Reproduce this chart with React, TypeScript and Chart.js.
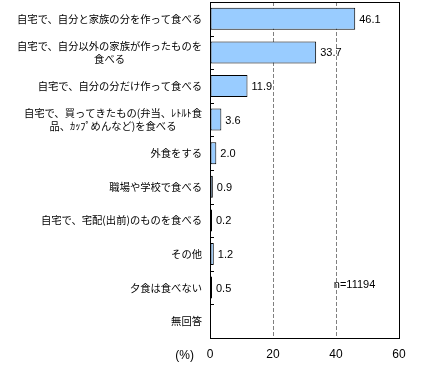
import React, { useEffect, useRef } from "react";
import { Chart, registerables } from "chart.js";

Chart.register(...registerables);

const categories: string[][] = [
  ["自宅で、自分と家族の分を作って食べる"],
  ["自宅で、自分以外の家族が作ったものを", "食べる"],
  ["自宅で、自分の分だけ作って食べる"],
  ["自宅で、買ってきたもの(弁当、ﾚﾄﾙﾄ食", "品、ｶｯﾌﾟめんなど)を食べる"],
  ["外食をする"],
  ["職場や学校で食べる"],
  ["自宅で、宅配(出前)のものを食べる"],
  ["その他"],
  ["夕食は食べない"],
  ["無回答"],
];
const values: (number | null)[] = [46.1, 33.7, 11.9, 3.6, 2.0, 0.9, 0.2, 1.2, 0.5, null];
const xTicks: number[] = [0, 20, 40, 60];
const unitLabel = "(%)";
const sampleNote = "n=11194";

const NUM_FAMILY = "'Liberation Sans', Arial, sans-serif";
const NUM_FONT = "11px " + NUM_FAMILY;
const CJK_FONT = "10.3px 'Noto Sans CJK JP', sans-serif";

const overlay = {
  id: "overlay",
  afterDatasetsDraw(chart: any) {
    const { ctx, chartArea } = chart;
    const xs = chart.scales.x;
    const ys = chart.scales.y;
    ctx.save();
    // border box
    ctx.strokeStyle = "#000";
    ctx.lineWidth = 1;
    ctx.strokeRect(
      Math.round(chartArea.left) + 0.5,
      Math.round(chartArea.top) + 0.5,
      Math.round(chartArea.right) - Math.round(chartArea.left),
      Math.round(chartArea.bottom) - Math.round(chartArea.top)
    );
    // inner category tick marks
    const n = categories.length;
    const band = (chartArea.bottom - chartArea.top) / n;
    ctx.beginPath();
    for (let i = 1; i < n; i++) {
      const y = Math.round(chartArea.top + band * i) + 0.5;
      ctx.moveTo(Math.round(chartArea.left), y);
      ctx.lineTo(Math.round(chartArea.left) + 4, y);
    }
    ctx.stroke();
    // value labels
    ctx.fillStyle = "#000";
    ctx.font = NUM_FONT;
    ctx.textAlign = "left";
    ctx.textBaseline = "middle";
    const meta = chart.getDatasetMeta(0);
    meta.data.forEach((bar: any, i: number) => {
      const v = values[i];
      if (v === null) return;
      const xEnd = Math.max(bar.x, xs.getPixelForValue(0) + 1);
      ctx.fillText(v.toFixed(1), xEnd + 4, bar.y + 1);
    });
    // category labels
    ctx.font = CJK_FONT;
    ctx.textAlign = "center";
    const right = chartArea.left - 8;
    const lh = 13;
    categories.forEach((lines, i) => {
      const yc = ys.getPixelForValue(i);
      const w = Math.max(...lines.map((l) => ctx.measureText(l).width));
      const cx = right - w / 2;
      const y0 = yc - ((lines.length - 1) * lh) / 2;
      lines.forEach((l, j) => ctx.fillText(l, cx, y0 + j * lh));
    });
    // unit label
    ctx.font = "12px " + NUM_FAMILY;
    ctx.textAlign = "right";
    ctx.fillText(unitLabel, chartArea.left - 16, 356);
    // sample note
    ctx.font = NUM_FONT;
    ctx.textAlign = "left";
    ctx.fillText(sampleNote, xs.getPixelForValue(39.3), ys.getPixelForValue(8) - 3);
    ctx.restore();
  },
};

export default function App() {
  const ref = useRef<HTMLCanvasElement | null>(null);
  useEffect(() => {
    document.body.style.margin = "0";
    if (!ref.current) return;
    const chart = new Chart(ref.current, {
      type: "bar",
      data: {
        labels: categories.map((c) => c.join("")),
        datasets: [
          {
            data: values as any,
            backgroundColor: "#99CCFF",
            borderColor: "#000000",
            borderWidth: 1,
            borderSkipped: false,
            barPercentage: 0.655,
            categoryPercentage: 1,
            minBarLength: 2,
          },
        ],
      },
      options: {
        indexAxis: "y",
        animation: false,
        responsive: false,
        maintainAspectRatio: false,
        layout: { padding: { left: 210, top: 2, right: 33, bottom: 0 } },
        plugins: { legend: { display: false }, tooltip: { enabled: false } },
        scales: {
          x: {
            min: 0,
            max: 60,
            afterBuildTicks: (scale: any) => {
              scale.ticks = xTicks.map((v) => ({ value: v }));
            },
            afterFit: (scale: any) => {
              scale.height = 36;
            },
            ticks: {
              color: "#000",
              padding: 9,
              font: { family: NUM_FAMILY, size: 12 },
            },
            grid: {
              drawTicks: false,
              color: (c: any) =>
                c.tick && (c.tick.value === 0 || c.tick.value === 60) ? "rgba(0,0,0,0)" : "#808080",
            },
            border: { display: false, dash: [4, 2] },
          },
          y: {
            display: false,
            grid: { display: false },
          },
        },
      },
      plugins: [overlay],
    });
    return () => chart.destroy();
  }, []);
  return (
    <div style={{ position: "absolute", left: 0, top: 0, width: 432, height: 374, background: "#fff" }}>
      <canvas ref={ref} width={432} height={374} style={{ width: 432, height: 374 }} />
    </div>
  );
}
